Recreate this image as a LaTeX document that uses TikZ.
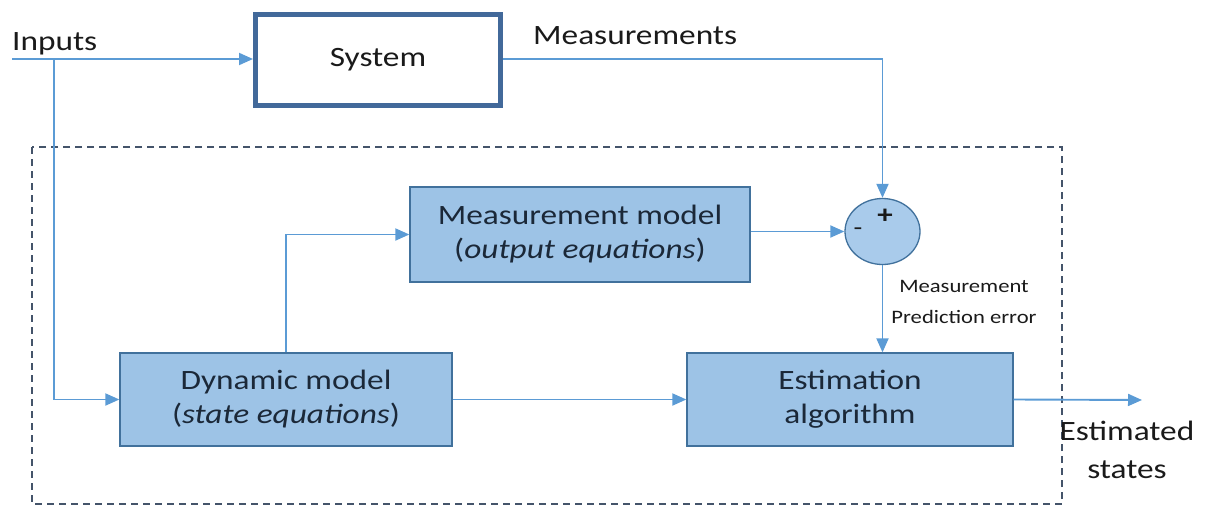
\documentclass[tikz,border=0pt]{standalone}
\usepackage{fontspec}
\setmainfont{Carlito}[FakeStretch=1.19]
\usetikzlibrary{arrows.meta,shapes.geometric}
\definecolor{linec}{HTML}{5B9BD5}
\definecolor{boxfill}{HTML}{9DC3E6}
\definecolor{boxline}{HTML}{41719C}
\definecolor{sysline}{HTML}{42699A}
\definecolor{sumfill}{HTML}{A9CBEB}
\definecolor{dashc}{HTML}{44546A}
\definecolor{txt}{HTML}{1A1A1A}
\definecolor{boxtxt}{HTML}{1B2838}
\begin{document}
\begin{tikzpicture}[x=1pt,y=-1pt,
  conn/.style={draw=linec,line width=1.9pt,-{Triangle[length=14pt,width=12pt]}},
  plain/.style={draw=linec,line width=1.9pt},
  blk/.style={draw=boxline,line width=1.3pt,fill=boxfill,text=boxtxt,align=center,
    font=\fontsize{28}{34}\selectfont,inner sep=0pt},
  lbl/.style={text=txt,font=\fontsize{28}{34}\selectfont,inner sep=0pt},
  small/.style={text=txt,font=\fontsize{19}{31}\selectfont,inner sep=0pt,align=center}]
\useasboundingbox (0,0) rectangle (1210,506);
% dashed enclosure
\draw[dashc,line width=1.1pt,dash pattern=on 7pt off 5pt] (32,147) rectangle (1062,504);
% blocks
\node[draw=sysline,line width=5pt,fill=white,text=txt,minimum width=245pt,minimum height=91pt,
  font=\fontsize{28}{34}\selectfont,inner sep=0pt] (sys) at (378,60) {System};
\node[blk,minimum width=340pt,minimum height=95pt] (mm) at (580,234.5)
  {Measurement model\\(\textit{output equations})};
\node[blk,minimum width=332pt,minimum height=93pt] (dm) at (286,399.5)
  {Dynamic model\\(\textit{state equations})};
\node[blk,minimum width=326pt,minimum height=93pt] (ea) at (850,399.5)
  {Estimation\\algorithm};
\node[ellipse,draw=boxline,line width=1.3pt,fill=sumfill,minimum width=75pt,minimum height=66pt,
  inner sep=0pt] (sum) at (882.5,231.5) {};
\node[text=txt,font=\fontsize{26}{26}\selectfont\bfseries,inner sep=0pt] (plus) at (885,216) {+};
\node[text=txt,font=\fontsize{24}{24}\selectfont,inner sep=0pt] (minus) at (858,232) {-};
% labels
\node[lbl,anchor=base west] (inl) at (12,50) {Inputs};
\node[lbl,anchor=base west] (meas) at (533,44) {Measurements};
\node[small,anchor=base] (err) at (964,323) {Measurement\\Prediction error};
\node[lbl,anchor=base,align=center,font=\fontsize{28}{38}\selectfont] (est) at (1127,478) {Estimated\\states};
% connectors
\coordinate (in) at (12,59);
\coordinate (split) at (54,59);
\coordinate (out) at (1142,400);
\draw[plain] (in) -- (split);
\draw[conn] (split) -- (sys.west |- split);
\draw[conn] (split) |- (dm.west);
\draw[conn] (sys.east |- split) -| (sum.north);
\draw[conn] (mm.east |- sum.west) -- (sum.west);
\draw[conn] (dm.north) |- (mm.west);
\draw[conn] (sum.south) -- (sum.south |- ea.north);
\draw[conn] (dm.east) -- (ea.west);
\draw[conn] (ea.east) -- (out);
\end{tikzpicture}
\end{document}
